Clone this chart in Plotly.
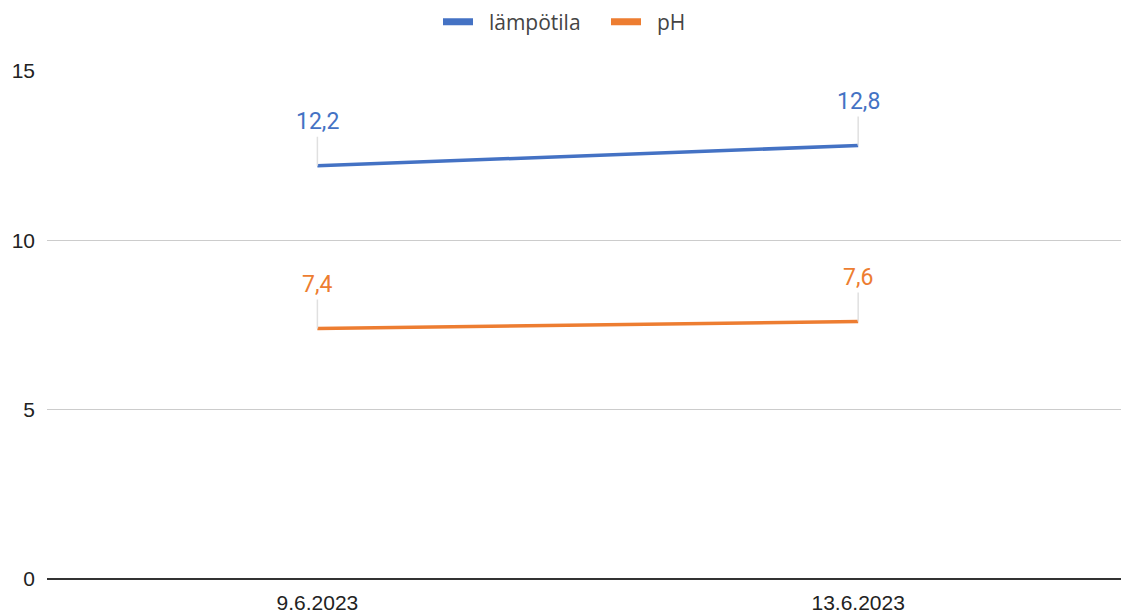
import plotly.graph_objects as go

dates = ["9.6.2023", "13.6.2023"]
temperature = [12.2, 12.8]
ph = [7.4, 7.6]
series_names = ["lämpötila", "pH"]
colors = ["#4472C4", "#ED7D31"]
y_ticks = [0, 5, 10, 15]

fig = go.Figure()
for name, vals, col in zip(series_names, [temperature, ph], colors):
    fig.add_trace(go.Scatter(x=dates, y=vals, name=name, mode="lines",
                             line=dict(color=col, width=3.5), showlegend=False))
    # legend-only proxy with thick short bar look
    fig.add_trace(go.Scatter(x=[None], y=[None], name="\u00a0\u00a0" + name, mode="lines",
                             line=dict(color=col, width=7)))
    for d, v in zip(dates, vals):
        fig.add_annotation(x=d, y=v, text=f"{v:.1f}".replace(".", ","),
                           showarrow=True, arrowhead=0, arrowwidth=1.5,
                           arrowcolor="#e0e0e0", ax=0, ay=-44, standoff=0,
                           font=dict(family="Roboto", size=23, color=col))

fig.update_layout(
    width=1121, height=615,
    margin=dict(l=47, r=0, t=71, b=36),
    plot_bgcolor="white", paper_bgcolor="white",
    showlegend=True,
    legend=dict(orientation="h", xref="container", x=438 / 1121, xanchor="left",
                yref="container", y=1 - 22 / 615, yanchor="middle",
                font=dict(family="Open Sans", size=21, color="#444"),
                itemwidth=30, entrywidth=123, entrywidthmode="pixels"),
    xaxis=dict(type="category", range=[-0.5, 1.486], showgrid=False,
               showline=False, zeroline=False,
               tickfont=dict(family="Liberation Sans", size=21, color="#222"),
               ticks="", ticklabelstandoff=9),
    yaxis=dict(range=[0, 15], tickvals=y_ticks, showgrid=True, gridcolor="#cccccc",
               gridwidth=1, zeroline=True, zerolinecolor="#333333", zerolinewidth=1.5,
               showline=False,
               tickfont=dict(family="Liberation Sans", size=21, color="#222"),
               ticks="", ticklabelstandoff=11),
)
fig.write_html(
    "out.html",
    config={"displayModeBar": False},
    post_script="document.body.style.margin='0';document.body.style.overflow='hidden';"
                "Plotly.relayout('{plot_id}', {width:1121, height:615});",
)
